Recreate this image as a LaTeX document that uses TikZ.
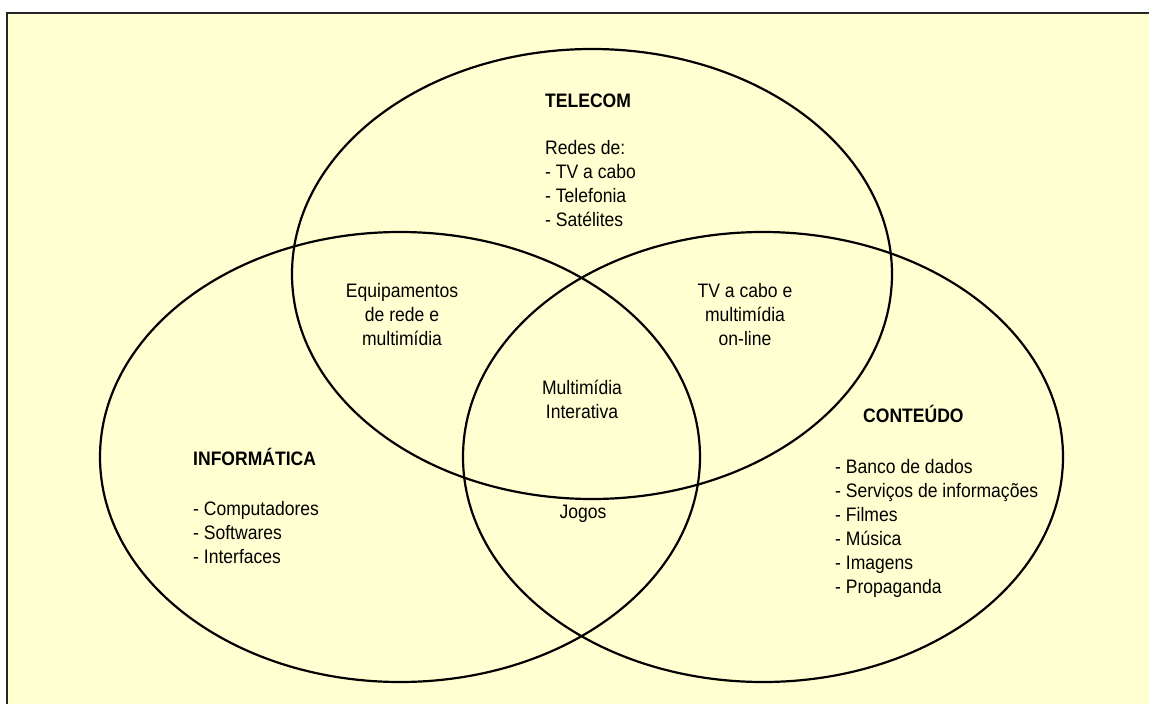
\documentclass[tikz,border=0pt]{standalone}
\usepackage{fontspec}
\setmainfont{Liberation Sans}[FakeStretch=0.9]
\usetikzlibrary{shapes.geometric}
\definecolor{paper}{RGB}{255,255,210}
\tikzset{
  venn/.style={ellipse, draw=black, line width=2.2pt, minimum width=600pt, minimum height=450pt, inner sep=0pt},
  txt/.style={inner sep=0pt, font=\fontsize{19.5}{24}\selectfont},
  lst/.style={txt, align=left, anchor=base west},
  ctr/.style={txt, align=center, anchor=base},
  ttl/.style={txt, font=\fontsize{19.5}{24}\selectfont\bfseries, anchor=base west},
}
\begin{document}
\begin{tikzpicture}[x=1pt,y=-1pt]
\useasboundingbox (0,0) rectangle (1149,704);
\fill[paper] (7,13) rectangle (1149,704);
\draw[line width=2.2pt, black!85] (7,704) -- (7,13) -- (1149,13);
% ellipses
\node[venn] (tel) at (592,274) {};
\node[venn] (inf) at (400,457) {};
\node[venn] (con) at (763,457) {};
% TELECOM (base anchor = baseline of last line)
\node[ttl] (telT) at (545,107) {TELECOM};
\node[lst] (telL) at (545,226) {Redes de:\\- TV a cabo\\- Telefonia\\- Satélites};
% intersections
\node[ctr] (ti) at (402,345) {Equipamentos\\de rede e\\multimídia};
\node[ctr] (tc) at (745,345) {TV a cabo e\\multimídia\\on-line};
\node[ctr] (all) at (582,418) {Multimídia\\Interativa};
\node[ctr] (ic) at (583,518) {Jogos};
% INFORMATICA
\node[ttl] (infT) at (193,465) {INFORMÁTICA};
\node[lst] (infL) at (193,563) {- Computadores\\- Softwares\\- Interfaces};
% CONTEUDO
\node[ttl] (conT) at (863,422) {CONTEÚDO};
\node[lst] (conL) at (835,593) {- Banco de dados\\- Serviços de informações\\- Filmes\\- Música\\- Imagens\\- Propaganda};
\end{tikzpicture}
\end{document}
